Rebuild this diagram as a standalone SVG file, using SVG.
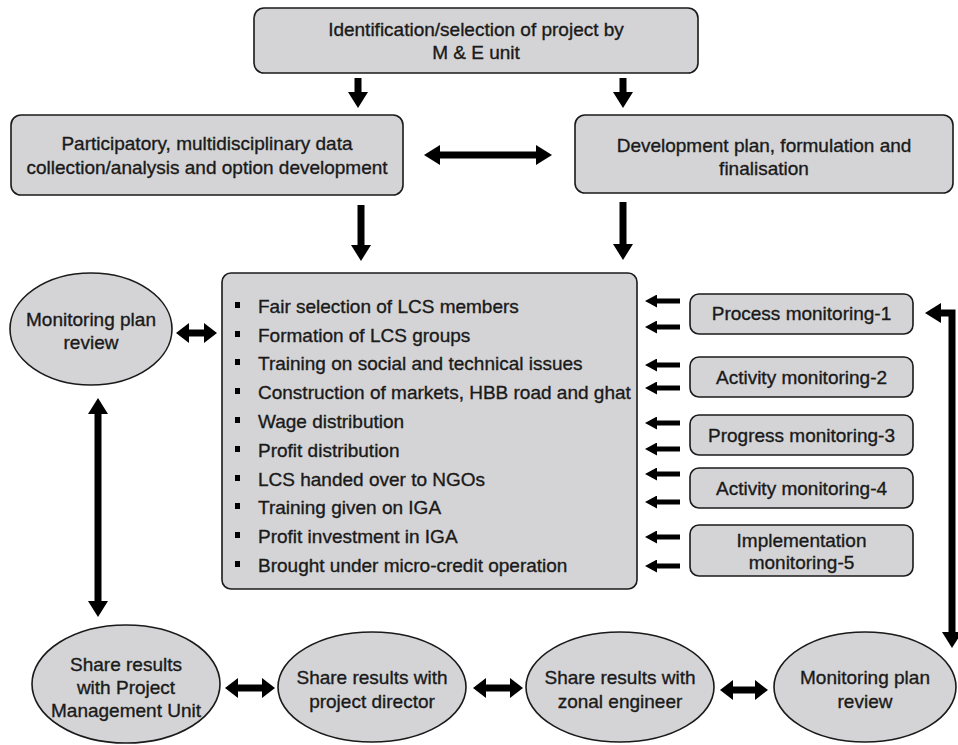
<svg xmlns="http://www.w3.org/2000/svg" width="958" height="745" viewBox="0 0 958 745">
<defs>
<style>
.box{fill:#d4d4d6;stroke:#1a1a1a;stroke-width:1.6}
.t{font-family:"Liberation Sans",Arial,Helvetica,sans-serif;font-size:19px;fill:#1a1a1a;stroke:#1a1a1a;stroke-width:0.35;text-anchor:middle}
.li{font-family:"Liberation Sans",Arial,Helvetica,sans-serif;font-size:19px;fill:#1a1a1a;stroke:#1a1a1a;stroke-width:0.35}
.big{stroke:#000;stroke-width:7;fill:none}
.sm{stroke:#000;stroke-width:5;fill:none}
</style>
<marker id="hb" markerUnits="userSpaceOnUse" markerWidth="16" markerHeight="20" refX="0" refY="10" orient="auto-start-reverse" viewBox="0 0 16 20"><path d="M0,0 L16,10 L0,20 z" fill="#000"/></marker>
<marker id="hm" markerUnits="userSpaceOnUse" markerWidth="13" markerHeight="20" refX="0" refY="10" orient="auto-start-reverse" viewBox="0 0 13 20"><path d="M0,0 L13,10 L0,20 z" fill="#000"/></marker>
<marker id="hs" markerUnits="userSpaceOnUse" markerWidth="12" markerHeight="13" refX="0" refY="6.5" orient="auto-start-reverse" viewBox="0 0 12 13"><path d="M0,0 L12,6.5 L0,13 z" fill="#000"/></marker>
</defs>
<rect width="958" height="745" fill="#fff"/>

<g id="top">
<rect class="box" x="254" y="8" width="444" height="65" rx="10"/>
<text class="t" x="476" y="36">Identification/selection of project by</text>
<text class="t" x="476" y="59">M &amp; E unit</text>
</g>

<g id="data">
<rect class="box" x="11" y="115" width="392" height="80" rx="10"/>
<text class="t" x="207" y="150">Participatory, multidisciplinary data</text>
<text class="t" x="207" y="174">collection/analysis and option development</text>
</g>

<g id="devplan">
<rect class="box" x="575" y="115" width="378" height="78" rx="10"/>
<text class="t" x="764" y="152">Development plan, formulation and</text>
<text class="t" x="764" y="175">finalisation</text>
</g>

<g id="activities">
<rect class="box" x="222" y="273" width="415" height="316" rx="9"/>
<g fill="#000">
<rect x="235" y="302" width="5" height="6"/>
<rect x="235" y="331" width="5" height="6"/>
<rect x="235" y="359" width="5" height="6"/>
<rect x="235" y="388" width="5" height="6"/>
<rect x="235" y="417" width="5" height="6"/>
<rect x="235" y="446" width="5" height="6"/>
<rect x="235" y="475" width="5" height="6"/>
<rect x="235" y="503" width="5" height="6"/>
<rect x="235" y="532" width="5" height="6"/>
<rect x="235" y="561" width="5" height="6"/>
</g>
<text class="li" x="258" y="313">Fair selection of LCS members</text>
<text class="li" x="258" y="342">Formation of LCS groups</text>
<text class="li" x="258" y="370">Training on social and technical issues</text>
<text class="li" x="258" y="399">Construction of markets, HBB road and ghat</text>
<text class="li" x="258" y="428">Wage distribution</text>
<text class="li" x="258" y="457">Profit distribution</text>
<text class="li" x="258" y="486">LCS handed over to NGOs</text>
<text class="li" x="258" y="514">Training given on IGA</text>
<text class="li" x="258" y="543">Profit investment in IGA</text>
<text class="li" x="258" y="572">Brought under micro-credit operation</text>
</g>

<g id="review1">
<ellipse class="box" cx="91" cy="329" rx="81" ry="56"/>
<text class="t" x="91" y="326">Monitoring plan</text>
<text class="t" x="91" y="349">review</text>
</g>

<g id="pm1">
<rect class="box" x="690" y="294" width="223" height="40" rx="9"/>
<text class="t" x="801.5" y="320">Process monitoring-1</text>
</g>
<g id="am2">
<rect class="box" x="690" y="357" width="223" height="40" rx="9"/>
<text class="t" x="801.5" y="384">Activity monitoring-2</text>
</g>
<g id="pm3">
<rect class="box" x="690" y="415" width="223" height="40" rx="9"/>
<text class="t" x="801.5" y="442">Progress monitoring-3</text>
</g>
<g id="am4">
<rect class="box" x="690" y="468" width="223" height="40" rx="9"/>
<text class="t" x="801.5" y="495">Activity monitoring-4</text>
</g>
<g id="im5">
<rect class="box" x="690" y="525" width="223" height="51" rx="9"/>
<text class="t" x="801.5" y="547">Implementation</text>
<text class="t" x="801.5" y="569">monitoring-5</text>
</g>

<g id="pmu">
<ellipse class="box" cx="126" cy="684" rx="94" ry="59"/>
<text class="t" x="126" y="671">Share results</text>
<text class="t" x="126" y="694">with Project</text>
<text class="t" x="126" y="717">Management Unit</text>
</g>
<g id="director">
<ellipse class="box" cx="372" cy="687" rx="94" ry="55"/>
<text class="t" x="372" y="684">Share results with</text>
<text class="t" x="372" y="708">project director</text>
</g>
<g id="zonal">
<ellipse class="box" cx="620" cy="687" rx="94" ry="55"/>
<text class="t" x="620" y="684">Share results with</text>
<text class="t" x="620" y="708">zonal engineer</text>
</g>
<g id="review2">
<ellipse class="box" cx="865" cy="687" rx="91" ry="55"/>
<text class="t" x="865" y="684">Monitoring plan</text>
<text class="t" x="865" y="708">review</text>
</g>

<g id="connectors">
<line class="big" x1="358" y1="78" x2="358" y2="92" marker-end="url(#hb)"/>
<line class="big" x1="623" y1="78" x2="623" y2="92" marker-end="url(#hb)"/>
<line class="big" x1="440" y1="155" x2="536" y2="155" marker-start="url(#hb)" marker-end="url(#hb)"/>
<line class="big" x1="361" y1="205" x2="361" y2="245" marker-end="url(#hb)"/>
<line class="big" x1="623" y1="202" x2="623" y2="244" marker-end="url(#hb)"/>
<line class="big" x1="189" y1="333" x2="204" y2="333" marker-start="url(#hm)" marker-end="url(#hm)"/>
<line class="big" x1="98" y1="414" x2="98" y2="601" marker-start="url(#hb)" marker-end="url(#hb)"/>
<line class="big" x1="238" y1="688" x2="262" y2="688" marker-start="url(#hm)" marker-end="url(#hm)"/>
<line class="big" x1="486" y1="688" x2="510" y2="688" marker-start="url(#hm)" marker-end="url(#hm)"/>
<line class="big" x1="733" y1="690" x2="755" y2="690" marker-start="url(#hm)" marker-end="url(#hm)"/>
<path class="big" d="M941,313 H952 V632" marker-start="url(#hb)" marker-end="url(#hb)"/>
<line class="sm" x1="680" y1="301" x2="657" y2="301" marker-end="url(#hs)"/>
<line class="sm" x1="680" y1="327" x2="657" y2="327" marker-end="url(#hs)"/>
<line class="sm" x1="680" y1="365" x2="657" y2="365" marker-end="url(#hs)"/>
<line class="sm" x1="680" y1="388" x2="657" y2="388" marker-end="url(#hs)"/>
<line class="sm" x1="680" y1="423" x2="657" y2="423" marker-end="url(#hs)"/>
<line class="sm" x1="680" y1="449" x2="657" y2="449" marker-end="url(#hs)"/>
<line class="sm" x1="680" y1="474" x2="657" y2="474" marker-end="url(#hs)"/>
<line class="sm" x1="680" y1="502" x2="657" y2="502" marker-end="url(#hs)"/>
<line class="sm" x1="680" y1="537" x2="657" y2="537" marker-end="url(#hs)"/>
<line class="sm" x1="680" y1="566" x2="657" y2="566" marker-end="url(#hs)"/>
</g>
</svg>
